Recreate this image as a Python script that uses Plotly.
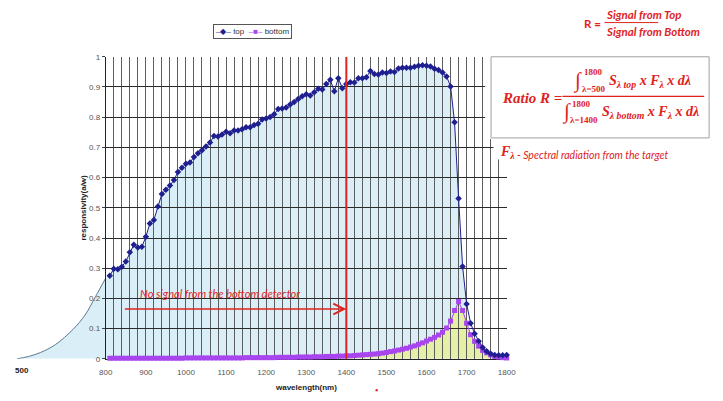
import plotly.graph_objects as go

W, H = 723, 401

# ---- data -------------------------------------------------------------
wavelength = list(range(810, 1801, 10))

top_resp = [
    0.275, 0.298, 0.297, 0.305, 0.322, 0.353, 0.378, 0.369, 0.371, 0.404,
    0.448, 0.460, 0.504, 0.546, 0.560, 0.574, 0.592, 0.619, 0.633, 0.646,
    0.650, 0.668, 0.681, 0.691, 0.703, 0.716, 0.738, 0.736, 0.743, 0.752,
    0.747, 0.756, 0.756, 0.760, 0.767, 0.767, 0.774, 0.778, 0.792, 0.796,
    0.801, 0.810, 0.827, 0.829, 0.832, 0.842, 0.850, 0.860, 0.869, 0.876,
    0.872, 0.883, 0.894, 0.892, 0.910, 0.924, 0.886, 0.929, 0.896, 0.910,
    0.916, 0.915, 0.929, 0.929, 0.932, 0.953, 0.943, 0.941, 0.948, 0.946,
    0.951, 0.950, 0.961, 0.964, 0.964, 0.964, 0.967, 0.970, 0.972, 0.970,
    0.968, 0.960, 0.956, 0.948, 0.935, 0.902, 0.783, 0.531, 0.306, 0.182,
    0.118, 0.083, 0.058, 0.038, 0.025, 0.017, 0.013, 0.012, 0.012, 0.013,
]

bottom_resp = [
    0.002, 0.002, 0.002, 0.002, 0.002, 0.002, 0.002, 0.002, 0.002, 0.002,
    0.002, 0.002, 0.002, 0.002, 0.002, 0.002, 0.002, 0.002, 0.002, 0.003,
    0.003, 0.003, 0.003, 0.003, 0.003, 0.003, 0.003, 0.003, 0.003, 0.003,
    0.003, 0.003, 0.003, 0.003, 0.004, 0.004, 0.004, 0.004, 0.004, 0.004,
    0.004, 0.004, 0.005, 0.005, 0.005, 0.005, 0.005, 0.006, 0.006, 0.006,
    0.006, 0.007, 0.007, 0.007, 0.008, 0.008, 0.008, 0.009, 0.009, 0.010,
    0.010, 0.011, 0.012, 0.013, 0.014, 0.015, 0.016, 0.017, 0.019, 0.021,
    0.024, 0.026, 0.029, 0.032, 0.035, 0.039, 0.043, 0.048, 0.053, 0.059,
    0.065, 0.071, 0.079, 0.088, 0.102, 0.125, 0.160, 0.190, 0.160, 0.118,
    0.080, 0.058, 0.042, 0.028, 0.020, 0.013, 0.008, 0.006, 0.004, 0.003,
]

# short-wave tail shown on its own compressed scale (500-800 nm)
tail_wl = [500, 540, 580, 630, 690, 730, 765, 800]
tail_resp = [0.0, 0.008, 0.021, 0.047, 0.098, 0.145, 0.205, 0.268]

x_ticks = [800, 900, 1000, 1100, 1200, 1300, 1400, 1500, 1600, 1700, 1800]
cutoff_wl = 1400
top_fill_end = 1700
bottom_fill_start = 1400

# ---- styling ----------------------------------------------------------
RED = "#e0231e"
NAVY = "#1f1f8f"
VIOLET = "#a845ee"
BLUE_FILL = "#daeef7"
YELLOW_FILL = "#e5efa6"
HGRID = "#2a2a2a"
VGRID = "#5e5e5e"
SANS = "Liberation Sans, Arial, sans-serif"
SERIF = "Liberation Serif, Times New Roman, serif"
CAL = "Lato, Liberation Sans, sans-serif"


def px(x):
    return x / W


def py(y):
    return 1 - y / H


xdom = [px(101), px(511)]
ydom = [py(363), py(54)]

fig = go.Figure()

# Subplot order sets the stacking: fills (xy), tail (x2y), grid (x3y3),
# measured series (x4y4).
i_end = wavelength.index(top_fill_end) + 1
fig.add_trace(go.Scatter(
    x=[800] + wavelength[:i_end], y=[tail_resp[-1]] + top_resp[:i_end],
    mode="lines", line=dict(width=0), fill="tozeroy", fillcolor=BLUE_FILL,
    hoverinfo="skip", showlegend=False, xaxis="x", yaxis="y"))
i_start = wavelength.index(bottom_fill_start)
fig.add_trace(go.Scatter(
    x=wavelength[i_start:], y=bottom_resp[i_start:],
    mode="lines", line=dict(width=0), fill="tozeroy", fillcolor=YELLOW_FILL,
    hoverinfo="skip", showlegend=False, xaxis="x", yaxis="y"))

# tail curve on the compressed left scale
fig.add_trace(go.Scatter(
    x=tail_wl, y=tail_resp, mode="lines",
    line=dict(color="#5a7890", width=1, shape="spline"),
    fill="tozeroy", fillcolor=BLUE_FILL, hoverinfo="skip",
    showlegend=False, xaxis="x2", yaxis="y"))

# invisible point that carries the gridded axes
fig.add_trace(go.Scatter(x=[800], y=[0], mode="markers",
                         marker=dict(size=0.1, opacity=0), hoverinfo="skip",
                         showlegend=False, xaxis="x3", yaxis="y3"))

# measured series
fig.add_trace(go.Scatter(
    x=wavelength, y=bottom_resp, name="bottom", mode="lines+markers",
    line=dict(color=VIOLET, width=1),
    marker=dict(symbol="square", size=5, color=VIOLET),
    cliponaxis=False, showlegend=False, xaxis="x4", yaxis="y4"))
fig.add_trace(go.Scatter(
    x=wavelength, y=top_resp, name="top", mode="lines+markers",
    line=dict(color=NAVY, width=1),
    marker=dict(symbol="diamond", size=5, color=NAVY),
    cliponaxis=False, showlegend=False, xaxis="x4", yaxis="y4"))

hidden = dict(visible=False, showgrid=False, zeroline=False)
fig.update_layout(
    width=W, height=H,
    margin=dict(l=0, r=0, t=0, b=0),
    paper_bgcolor="white", plot_bgcolor="rgba(0,0,0,0)",
    showlegend=False,
    xaxis=dict(domain=xdom, range=[800, 1800], anchor="y", **hidden),
    yaxis=dict(domain=ydom, range=[0, 1], anchor="x", **hidden),
    xaxis2=dict(domain=[px(10), px(101)], range=[500, 800], anchor="y",
                **hidden),
    xaxis3=dict(domain=xdom, range=[800, 1800], anchor="y3",
                tickvals=x_ticks, showgrid=True, gridcolor=VGRID, gridwidth=1,
                minor=dict(dtick=20, showgrid=True, gridcolor=VGRID, gridwidth=1),
                showline=True, linecolor="#222", linewidth=1, zeroline=False,
                ticks="", ticklabelstandoff=6,
                tickfont=dict(family=SANS, size=8, color="#555")),
    yaxis3=dict(domain=ydom, range=[0, 1], anchor="x3", dtick=0.1,
                showgrid=True, gridcolor=HGRID, gridwidth=1,
                showline=True, linecolor="#222", linewidth=1, zeroline=False,
                ticks="outside", ticklen=3, tickcolor="#444",
                tickfont=dict(family=SANS, size=8, color="#555")),
    xaxis4=dict(domain=xdom, range=[800, 1800], anchor="y4", **hidden),
    yaxis4=dict(domain=ydom, range=[0, 1], anchor="x4", **hidden),
)

shapes = [
    # cutoff marker
    dict(type="line", xref="x3", yref="y3", x0=cutoff_wl, x1=cutoff_wl,
         y0=-0.016, y1=1, line=dict(color=RED, width=2), layer="above"),
    # white panels behind the equations
    dict(type="rect", xref="paper", yref="paper", x0=px(489), x1=px(723),
         y0=py(138), y1=py(40), fillcolor="white", line=dict(width=0),
         layer="above"),
    dict(type="rect", xref="paper", yref="paper", x0=px(497.5), x1=px(723),
         y0=py(159), y1=py(137), fillcolor="white", line=dict(width=0),
         layer="above"),
    dict(type="rect", xref="paper", yref="paper", x0=px(495), x1=px(718),
         y0=py(137), y1=py(54), fillcolor="white",
         line=dict(color="#a0a0a0", width=1), layer="above"),
    # fraction bars
    dict(type="line", xref="paper", yref="paper", x0=px(611), x1=px(666),
         y0=py(19), y1=py(19), line=dict(color=RED, width=1), layer="above"),
    dict(type="line", xref="paper", yref="paper", x0=px(568), x1=px(713),
         y0=py(94.5), y1=py(94.5), line=dict(color=RED, width=1.3),
         layer="above"),
    # small red dot below the axis
    dict(type="circle", xref="paper", yref="paper", x0=px(376.8), x1=px(379.2),
         y0=py(396.2), y1=py(393.8), fillcolor=RED, line=dict(width=0),
         layer="above"),
]


def label(text, x, y, size, family=CAL, color=RED, xanchor="left",
          yanchor="middle", **kw):
    return dict(text=text, x=px(x), y=py(y), xref="paper", yref="paper",
                xanchor=xanchor, yanchor=yanchor, showarrow=False,
                font=dict(family=family, size=size, color=color), **kw)


annotations = [
    # legend
    label('<span style="color:%s">–◆–</span> top  '
          '<span style="color:%s">–■–</span> bottom' % (NAVY, VIOLET),
          251.5, 28.5, 8, family=SANS, color="#333", xanchor="center",
          bordercolor="#555", borderwidth=1, borderpad=2, bgcolor="white"),
    # axis titles
    label("<b>wavelength(nm)</b>", 306, 392, 8, family=SANS, color="#222",
          xanchor="center"),
    label("<b>responsivity(a/w)</b>", 78, 208, 8, family=SANS, color="#222",
          xanchor="center", textangle=-90),
    label("<b>500</b>", 15, 375, 8, family=SANS, color="#222",
          xanchor="center"),
    # simple ratio
    label("<b>R =</b>", 599, 20, 11.5, xanchor="center"),
    label("<b><i>Signal from Top</i></b>", 610, 11, 11.5),
    label("<b><i>Signal from Bottom</i></b>", 610, 28.5, 11.5),
    # integral ratio
    label("<b><i>Ratio R =</i></b>", 504, 96, 15, family=SERIF),
    label("<i>∫</i>", 583, 78, 21, family=SERIF, xanchor="center"),
    label("<b>1800</b>", 588, 70, 9, family=SERIF),
    label("<b>λ=500</b>", 586, 86.5, 9, family=SERIF),
    label("<b><i>S<sub>λ top</sub> x F<sub>λ</sub> x dλ</i></b>",
          614, 79, 14, family=SERIF),
    label("<i>∫</i>", 572, 110, 21, family=SERIF, xanchor="center"),
    label("<b>1800</b>", 576, 102, 9, family=SERIF),
    label("<b>λ=1400</b>", 574, 118.5, 9, family=SERIF),
    label("<b><i>S<sub>λ bottom</sub> x F<sub>λ</sub> x dλ</i></b>",
          606, 111, 14, family=SERIF),
    # spectral radiation note
    label("<b><i>F<sub>λ</sub></i></b>", 502, 152, 14, family=SERIF),
    label("<i>- Spectral radiation from the target</i>", 519, 154, 10.5),
    # bottom-detector note and arrow
    label("<i>No signal from the bottom detector</i>", 218, 296, 11,
          xanchor="center"),
    dict(x=cutoff_wl, y=0.165, xref="x3", yref="y3",
         ax=844, ay=0.165, axref="x3", ayref="y3", text="",
         showarrow=True, arrowhead=5, arrowsize=1.4, arrowwidth=1.5,
         arrowcolor=RED, standoff=0),
]

fig.update_layout(shapes=shapes, annotations=annotations)

fig.write_html("out.html")
